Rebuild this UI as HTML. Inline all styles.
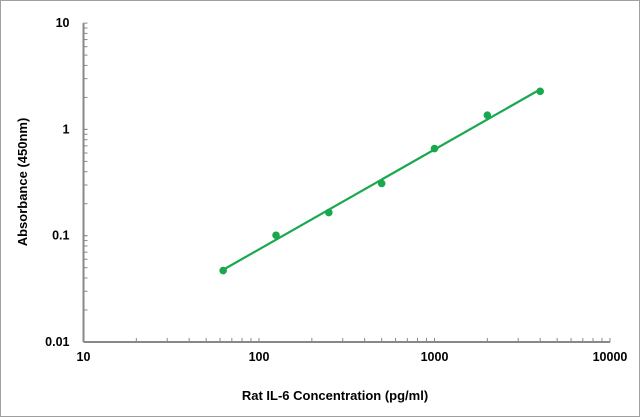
<!DOCTYPE html>
<html><head><meta charset="utf-8"><style>
html,body{margin:0;padding:0;background:#fff}
svg{display:block}
text{font-family:"Liberation Sans",Arial,sans-serif;font-weight:bold;fill:#000}
</style></head><body>
<svg id="chart" width="641" height="418">
<rect x="0.5" y="0.5" width="639" height="416" fill="#fff" stroke="#a0a0a0"/>
<g id="axes"></g><g id="series"></g>
<text x="335" y="400" text-anchor="middle" font-size="13">Rat IL-6 Concentration (pg/ml)</text>
<text transform="translate(27,182) rotate(-90)" text-anchor="middle" font-size="13">Absorbance (450nm)</text>
</svg>
<script>
const xValues=[62.5,125,250,500,1000,2000,4000];
const yValues=[0.047,0.101,0.165,0.31,0.66,1.36,2.28];
const xTicks=[10,100,1000,10000];
const yTicks=[0.01,0.1,1,10];
const xTickLabels=["10","100","1000","10000"];
const yTickLabels=["0.01","0.1","1","10"];
const NS="http://www.w3.org/2000/svg";
const X0=83.5,XD=175.5,Y0=342,YD=106.3;
const sx=v=>X0+XD*Math.log10(v/10);
const sy=v=>Y0-YD*Math.log10(v/0.01);
function mk(tag,attrs,parent){const e=document.createElementNS(NS,tag);for(const k in attrs)e.setAttribute(k,attrs[k]);parent.appendChild(e);return e;}
const axes=document.getElementById('axes'),series=document.getElementById('series');
let a=mk('line',{x1:X0,y1:sy(10),x2:X0,y2:Y0,stroke:'#888','stroke-width':2},axes);


a=mk('line',{x1:X0,y1:Y0,x2:sx(10000),y2:Y0,stroke:'#888','stroke-width':2},axes);


for(let d=0;d<3;d++)for(let m=1;m<=10;m++){
 const yv=0.01*Math.pow(10,d)*m, xv=10*Math.pow(10,d)*m;
 let t=mk('line',{x1:X0,x2:X0+4,y1:sy(yv),y2:sy(yv),stroke:'#888','stroke-width':1},axes);
 
 
 t=mk('line',{x1:sx(xv),x2:sx(xv),y1:Y0,y2:Y0-4,stroke:'#888','stroke-width':1},axes);
 
 
}
xTicks.forEach((v,i)=>{const t=mk('text',{x:sx(v),y:Y0+19,'text-anchor':'middle','font-size':12.5},axes);t.textContent=xTickLabels[i];
 
 });
yTicks.forEach((v,i)=>{const t=mk('text',{x:X0-14,y:sy(v)+4,'text-anchor':'end','font-size':12.5},axes);t.textContent=yTickLabels[i];
 
 });
const lx=xValues.map(Math.log10),ly=yValues.map(Math.log10),n=lx.length;
const mx=lx.reduce((s,v)=>s+v)/n,my=ly.reduce((s,v)=>s+v)/n;
let num=0,den=0;for(let i=0;i<n;i++){num+=(lx[i]-mx)*(ly[i]-my);den+=(lx[i]-mx)**2;}
const b=num/den,c=my-b*mx;
const f=x=>Math.pow(10,c+b*Math.log10(x));
const x1=xValues[0],x2=xValues[n-1];
const fl=mk('line',{x1:sx(x1),y1:sy(f(x1)),x2:sx(x2),y2:sy(f(x2)),stroke:'#1aa84f','stroke-width':2.2},series);


xValues.forEach((v,i)=>{const p=mk('circle',{cx:sx(v),cy:sy(yValues[i]),r:3.8,fill:'#1aa84f'},series);
 
 });
</script>
</body></html>
